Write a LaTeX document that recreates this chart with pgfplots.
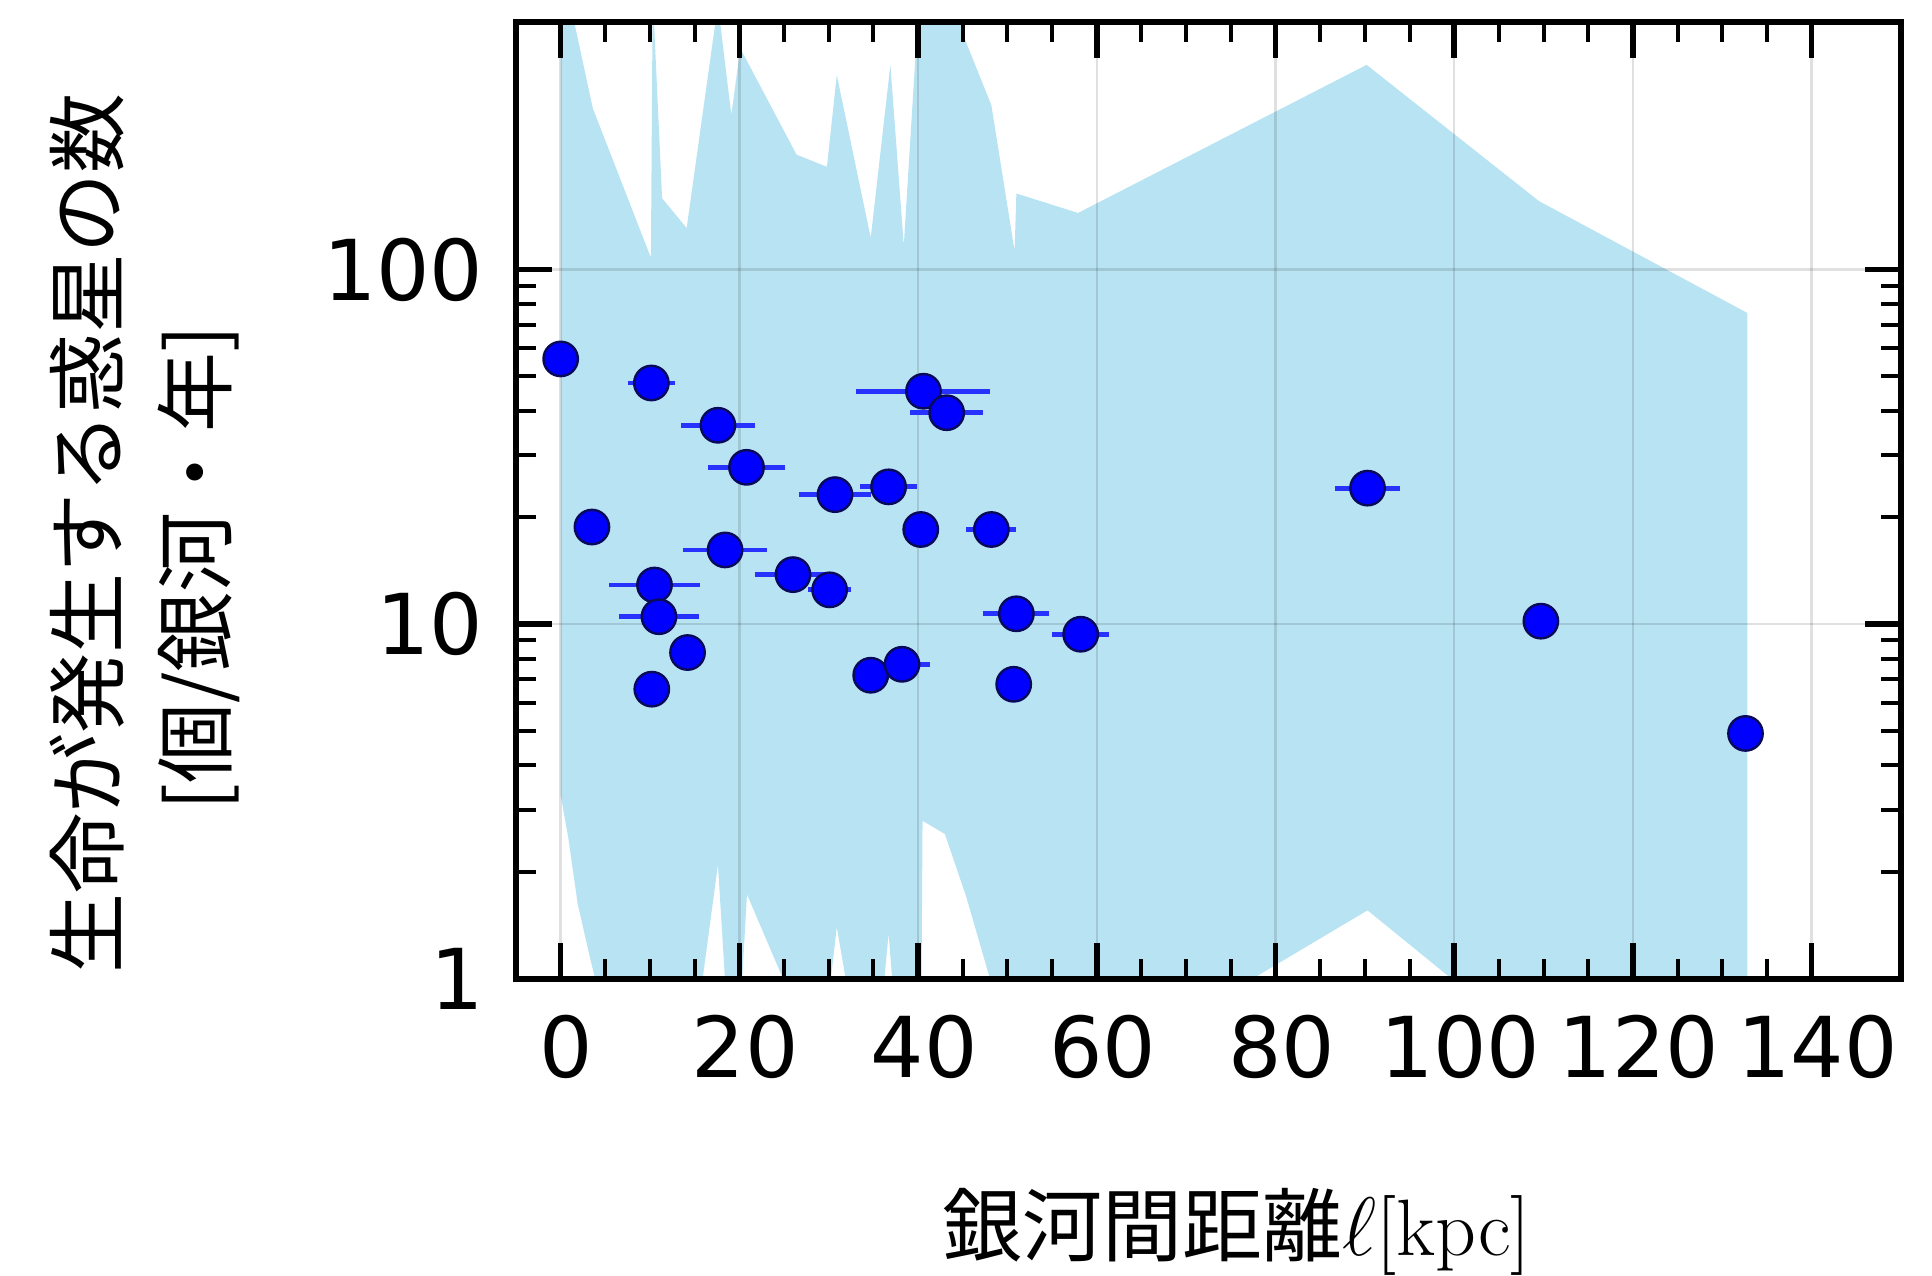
\documentclass[border=0pt]{standalone}
\usepackage{fontspec}
\usepackage{pgfplots}
\usepackage{pgfplotstable}
\pgfplotsset{compat=1.18}
\newfontfamily\cjk{Noto Sans CJK JP}
\newfontfamily\dejavu{DejaVu Sans}
\definecolor{bandc}{RGB}{184,227,243}
\definecolor{mkface}{RGB}{0,0,255}
\definecolor{mkedge}{RGB}{10,10,90}
\definecolor{errc}{RGB}{40,50,255}

\pgfplotstableread{
x y xerr
0 56 0
10.15 47.9 2.65
17.6 36.4 4.1
20.8 27.7 4.3
40.6 45.4 7.5
43.2 39.5 4.1
30.7 23.2 4.0
36.7 24.4 3.2
3.5 18.8 0
40.3 18.5 0
48.2 18.5 2.8
18.4 16.2 4.7
26.0 13.8 4.25
30.1 12.5 2.4
10.5 12.9 5.1
11.0 10.5 4.5
51.0 10.7 3.7
58.2 9.37 3.2
14.2 8.32 0
10.2 6.56 0
34.7 7.18 0
38.2 7.71 3.1
50.7 6.77 0
90.3 24.2 3.6
109.7 10.2 0
132.6 4.92 0
}\pts

\begin{document}
\begin{tikzpicture}
\begin{axis}[
  at={(0,0)}, anchor=south west,
  scale only axis, width=346.25pt, height=239.25pt,
  set layers=standard, clip mode=individual,
  xmin=-5, xmax=150, ymode=log, ymin=1, ymax=500,
  xtick={0,20,40,60,80,100,120,140},
  xticklabels={0,20,40,60,80,100,120,140},
  ytick={1,10,100}, yticklabels={1,10,100},
  minor x tick num=3,
  tick align=inside, tick pos=both,
  major tick length=9pt, minor tick length=5pt,
  major tick style={line width=1.4pt, black},
  minor tick style={line width=1pt, black},
  axis line style={line width=1.5pt},
  grid=major, major grid style={line width=0.6pt, black, opacity=0.12},
  ticklabel style={font=\dejavu\fontsize{21}{25}\selectfont},
  xticklabel style={yshift=-5.5pt, xshift=1.5pt},
  yticklabel style={xshift=-4.6pt},
  xlabel={{\cjk 銀河間距離}$\ell$[kpc]},
  xlabel style={at={(rel axis cs:0.5203,-0.2894)}, anchor=base, inner sep=0pt, font=\fontsize{20}{24}\selectfont},
  ylabel={生命が発生する惑星の数\\{}[個/銀河・年]\hspace*{17pt}},
  ylabel style={at={(rel axis cs:-0.268,0.465)}, anchor=center, align=center, font=\cjk\fontsize{20}{27}\selectfont},
]
\addplot[on layer=axis background, fill=bandc, draw=none, forget plot] coordinates {
 (0,750) (3.6,285) (10.1,108) (10.3,600) (11.35,159) (14.1,131) (17.6,560)
 (19.1,273) (20.1,421) (26.4,211) (29.8,195) (30.9,354) (34.7,123) (36.9,378)
 (38.4,117) (40.3,700) (43.2,700) (45.2,449) (48.2,291) (50.8,113) (51.0,164)
 (57.9,144.5) (90.2,378) (109.5,156) (132.8,75.5)
 (132.8,0.5) (109.5,0.63) (90.3,1.56) (57.9,0.51) (51.0,0.6) (48.2,0.97)
 (45.4,1.70) (43.0,2.56) (40.5,2.79) (40.3,0.45) (38.2,0.45) (36.7,1.34)
 (34.7,0.39) (30.9,1.40) (30.1,0.93) (26.0,0.86) (20.85,1.73) (20.1,0.8)
 (18.5,0.9) (17.6,2.1) (14.1,0.46) (4.3,0.9) (3.2,1.17) (1.9,1.63) (0.85,2.5) (0,3.3)
} -- cycle;
\addplot[only marks, mark=*, mark size=4.3pt,
  mark options={fill=mkface, draw=mkedge, line width=0.6pt},
  error bars/.cd, x dir=both, x explicit, error mark=none,
  error bar style={line width=1.2pt, color=errc}]
  table[x=x, y=y, x error=xerr] {\pts};
\end{axis}
\path (-129pt,-74.3pt) rectangle (354pt,244.7pt);
\end{tikzpicture}
\end{document}
